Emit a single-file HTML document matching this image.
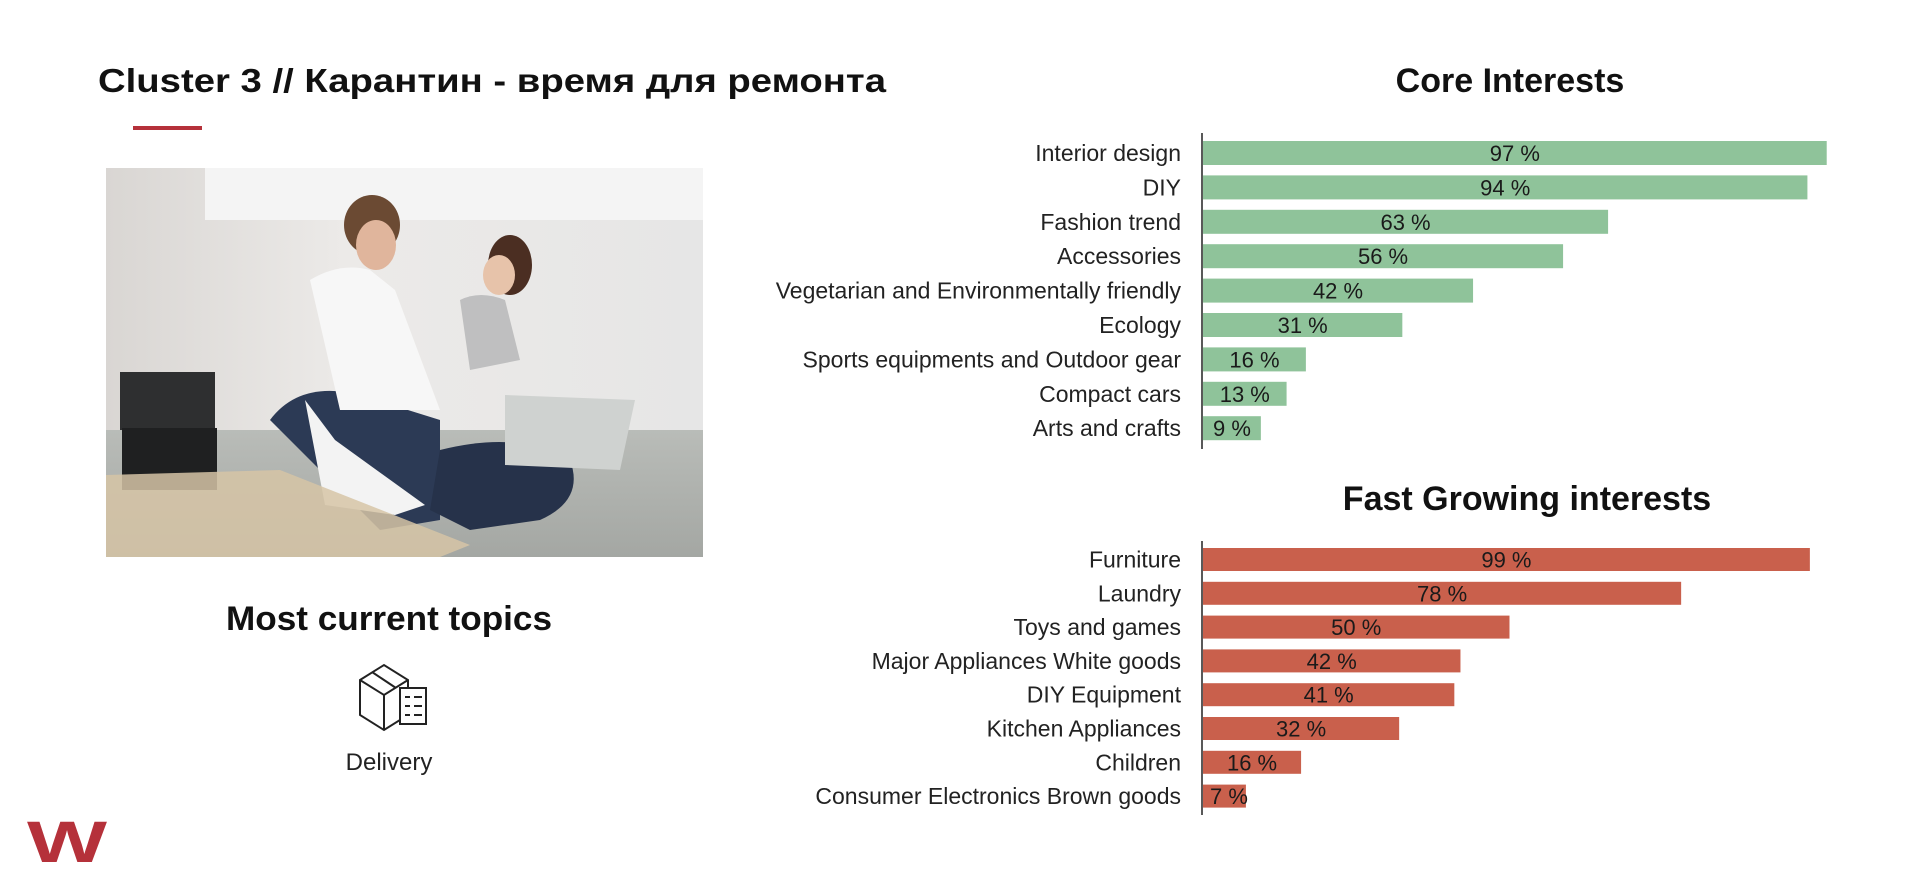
<!DOCTYPE html>
<html><head><meta charset="utf-8"><style>
html,body{margin:0;padding:0;background:#fff;width:1920px;height:871px;overflow:hidden}
svg{display:block}
text{font-family:"Liberation Sans","Noto Sans CJK SC",sans-serif}
</style></head><body>
<svg id="s" width="1920" height="871" viewBox="0 0 1920 871" xmlns="http://www.w3.org/2000/svg">
<defs>
<linearGradient id="wall" x1="0" y1="0" x2="1" y2="0"><stop offset="0" stop-color="#d9d6d3"/><stop offset="0.4" stop-color="#eceae8"/><stop offset="1" stop-color="#e6e6e6"/></linearGradient>
<linearGradient id="floor" x1="0" y1="0" x2="0" y2="1"><stop offset="0" stop-color="#b9bcb8"/><stop offset="1" stop-color="#a4a7a3"/></linearGradient>
</defs>
<text x="98" y="92" font-size="33" font-weight="bold" fill="#111" textLength="788" lengthAdjust="spacingAndGlyphs">Cluster 3 // Карантин - время для ремонта</text>
<rect x="133" y="126" width="69" height="4" fill="#b5313a"/>
<g>
<rect x="106" y="168" width="597" height="389" fill="url(#wall)"/>
<rect x="205" y="168" width="498" height="52" fill="#f4f4f4"/>
<rect x="106" y="430" width="597" height="127" fill="url(#floor)"/>
<rect x="120" y="372" width="95" height="58" fill="#2e2f30"/>
<rect x="122" y="428" width="95" height="62" fill="#1f2021"/>
<path d="M270 420 Q300 380 360 395 L440 420 L440 520 L380 530 L320 470 Z" fill="#2c3a55"/>
<path d="M440 450 Q520 430 570 460 Q585 500 540 520 L470 530 L430 510 Z" fill="#26324a"/>
<path d="M310 280 Q340 262 370 270 L395 290 L440 410 L340 410 Z" fill="#f7f7f7"/>
<path d="M460 300 Q480 290 505 300 L520 360 L470 370 Z" fill="#bfbfc0"/>
<ellipse cx="372" cy="225" rx="28" ry="30" fill="#6b4a33"/>
<ellipse cx="510" cy="265" rx="22" ry="30" fill="#4b2e22"/>
<ellipse cx="376" cy="245" rx="20" ry="25" fill="#e0b59c"/>
<ellipse cx="499" cy="275" rx="16" ry="20" fill="#e7c3aa"/>
<path d="M505 395 L635 400 L620 470 L505 465 Z" fill="#cfd2d0"/>
<path d="M305 400 L335 440 L425 505 L395 515 L325 505 Z" fill="#f3f3f3"/>
<path d="M106 475 L280 470 L470 545 L440 557 L106 557 Z" fill="#d6c4a6" opacity="0.85"/>
</g>
<text x="389" y="630" font-size="34" font-weight="bold" fill="#111" text-anchor="middle" textLength="326" lengthAdjust="spacingAndGlyphs">Most current topics</text>
<g fill="none" stroke="#222" stroke-width="2">
<path d="M360 680 L384 665 L408 680 L408 715 L384 730 L360 715 Z"/>
<path d="M360 680 L384 695 L408 680 M384 695 L384 730 M372 672 L396 688"/>
<rect x="400" y="688" width="26" height="36" fill="#fff"/>
<path d="M405 697 h5 M414 697 h8 M405 706 h5 M414 706 h8 M405 715 h5 M414 715 h8"/>
</g>
<text x="389" y="770" font-size="24" fill="#222" text-anchor="middle">Delivery</text>
<text x="27" y="862" font-size="58" font-weight="bold" fill="#b5313a" textLength="80" lengthAdjust="spacingAndGlyphs">W</text>
<text x="1510" y="92" font-size="34" font-weight="bold" fill="#111" text-anchor="middle">Core Interests</text>
<text x="1527" y="510" font-size="34" font-weight="bold" fill="#111" text-anchor="middle">Fast Growing interests</text>
<line x1="1202" y1="133" x2="1202" y2="449" stroke="#222" stroke-width="1.5"/>
<line x1="1202" y1="541" x2="1202" y2="815" stroke="#222" stroke-width="1.5"/>
<g id="core"></g>
<g id="fast"></g>
</svg>
<script>
const coreCategories = ["Interior design","DIY","Fashion trend","Accessories","Vegetarian and Environmentally friendly","Ecology","Sports equipments and Outdoor gear","Compact cars","Arts and crafts"];
const coreValues = [97,94,63,56,42,31,16,13,9];
const fastCategories = ["Furniture","Laundry","Toys and games","Major Appliances White goods","DIY Equipment","Kitchen Appliances","Children","Consumer Electronics Brown goods"];
const fastValues = [99,78,50,42,41,32,16,7];
const NS = "http://www.w3.org/2000/svg";
function drawChart(gid, cats, vals, cfg){
  const g = document.getElementById(gid);
  const x = v => v * cfg.pxPerPct;
  cats.forEach((c,i)=>{
    const top = cfg.top + i*cfg.step;
    const w = x(vals[i]);
    const r = document.createElementNS(NS,"rect");
    r.setAttribute("x", cfg.x0); r.setAttribute("y", top);
    r.setAttribute("width", w); r.setAttribute("height", cfg.h);
    r.setAttribute("fill", cfg.color);
    
    
    g.appendChild(r);
    const t = document.createElementNS(NS,"text");
    t.setAttribute("x", cfg.x0 + Math.max(w/2, 26)); t.setAttribute("y", top + cfg.h/2 + 8);
    t.setAttribute("text-anchor","middle"); t.setAttribute("font-size","22"); t.setAttribute("fill","#1a1a1a");
    t.textContent = vals[i] + " %";
    
    
    g.appendChild(t);
    const l = document.createElementNS(NS,"text");
    l.setAttribute("x", 1181); l.setAttribute("y", top + cfg.h/2 + 8);
    l.setAttribute("text-anchor","end"); l.setAttribute("font-size","23"); l.setAttribute("fill","#222");
    l.textContent = c;
    
    
    g.appendChild(l);
  });
}
drawChart("core", coreCategories, coreValues, {x0:1203, top:141, step:34.4, h:24, pxPerPct:6.43, color:"#8fc39a"});
drawChart("fast", fastCategories, fastValues, {x0:1203, top:548, step:33.8, h:23, pxPerPct:6.13, color:"#c9604c"});
</script>
</body></html>
